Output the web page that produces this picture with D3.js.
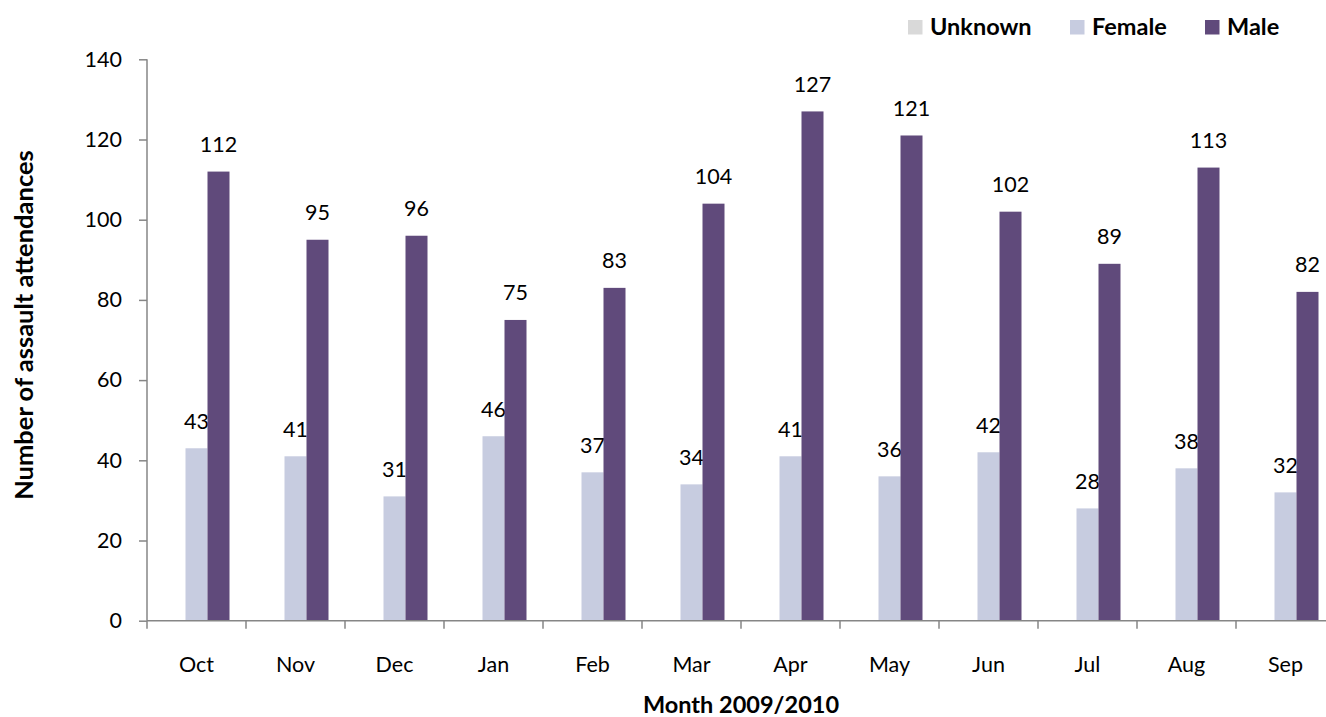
<!DOCTYPE html>
<html>
<head>
<meta charset="utf-8">
<script src="https://cdn.jsdelivr.net/npm/d3@7"></script>
<style>
  body { margin: 0; background: #fff; }
  svg { display: block; font-family: Lato, "Open Sans", sans-serif; }
</style>
</head>
<body>
<script>
var months = ["Oct", "Nov", "Dec", "Jan", "Feb", "Mar", "Apr", "May", "Jun", "Jul", "Aug", "Sep"];
var seriesNames = ["Unknown", "Female", "Male"];
var unknown = [0, 0, 0, 0, 0, 0, 0, 0, 0, 0, 0, 0];
var female = [43, 41, 31, 46, 37, 34, 41, 36, 42, 28, 38, 32];
var male = [112, 95, 96, 75, 83, 104, 127, 121, 102, 89, 113, 82];
var yTicks = [0, 20, 40, 60, 80, 100, 120, 140];
var colors = ["#d9d9d9", "#c7cce0", "#604a7b"];

var width = 1326, height = 717;
var plotLeft = 147, plotRight = 1335, plotTop = 59.3, plotBottom = 620.7;
var labelSize = 21.5, titleSize = 23.5;

var svg = d3.select("body").append("svg")
  .attr("width", width)
  .attr("height", height);

var x0 = d3.scaleBand().domain(months).range([plotLeft, plotRight]);
var x1 = d3.scaleBand().domain(seriesNames).range([0, x0.bandwidth()]).paddingOuter(0.75);
var y = d3.scaleLinear().domain([0, 140]).range([plotBottom, plotTop]);

var values = [unknown, female, male];

// bars and value labels
seriesNames.forEach(function (s, si) {
  var g = svg.append("g");
  g.selectAll("rect").data(months).enter().append("rect")
    .attr("x", function (m) { return x0(m) + x1(s); })
    .attr("y", function (m, i) { return y(values[si][i]); })
    .attr("width", x1.bandwidth())
    .attr("height", function (m, i) { return plotBottom - y(values[si][i]); })
    .attr("fill", colors[si]);

  g.selectAll("text").data(months.filter(function (m, i) { return values[si][i] > 0; }))
    .enter().append("text")
    .attr("x", function (m) { return x0(m) + x1(s) + x1.bandwidth() / 2; })
    .attr("y", function (m) { return y(values[si][months.indexOf(m)]) - 19.5; })
    .attr("text-anchor", "middle")
    .attr("font-size", labelSize)
    .attr("fill", "#000")
    .text(function (m) { return values[si][months.indexOf(m)]; });
});

// y axis
var yAxis = svg.append("g")
  .attr("transform", "translate(" + plotLeft + ",0)")
  .call(d3.axisLeft(y).tickValues(yTicks).tickSize(8).tickPadding(17));
yAxis.selectAll("path, line").attr("stroke", "#868686").attr("stroke-width", 1.5);
yAxis.select(".domain").attr("d", "M0," + plotTop + "V" + plotBottom);
yAxis.selectAll("text").attr("font-size", labelSize).attr("fill", "#000").attr("font-family", "Lato");

// x axis, ticks between categories
var xAxis = svg.append("g").attr("transform", "translate(0," + plotBottom + ")");
xAxis.append("line")
  .attr("x1", plotLeft).attr("x2", plotRight)
  .attr("stroke", "#868686").attr("stroke-width", 1.5);
xAxis.selectAll("line.tick").data(months).enter().append("line")
  .attr("class", "tick")
  .attr("x1", function (m) { return x0(m); })
  .attr("x2", function (m) { return x0(m); })
  .attr("y1", 0).attr("y2", 8)
  .attr("stroke", "#868686").attr("stroke-width", 1.5);
xAxis.selectAll("text").data(months).enter().append("text")
  .attr("x", function (m) { return x0(m) + x0.bandwidth() / 2; })
  .attr("y", 51)
  .attr("text-anchor", "middle")
  .attr("font-size", labelSize)
  .text(function (m) { return m; });

// axis titles
svg.append("text")
  .attr("x", (plotLeft + plotRight) / 2)
  .attr("y", 713)
  .attr("text-anchor", "middle")
  .attr("font-size", titleSize)
  .attr("font-weight", "bold")
  .text("Month 2009/2010");

svg.append("text")
  .attr("transform", "translate(33,325) rotate(-90)")
  .attr("text-anchor", "middle")
  .attr("font-size", 25.5)
  .attr("font-weight", "bold")
  .text("Number of assault attendances");

// legend
var legendX = [908, 1070, 1205];
var legend = svg.append("g");
seriesNames.forEach(function (s, i) {
  legend.append("rect")
    .attr("x", legendX[i]).attr("y", 20)
    .attr("width", 14.5).attr("height", 14.5)
    .attr("fill", colors[i]);
  legend.append("text")
    .attr("x", legendX[i] + 22).attr("y", 35)
    .attr("font-size", titleSize)
    .attr("font-weight", "bold")
    .text(s);
});
</script>
</body>
</html>
